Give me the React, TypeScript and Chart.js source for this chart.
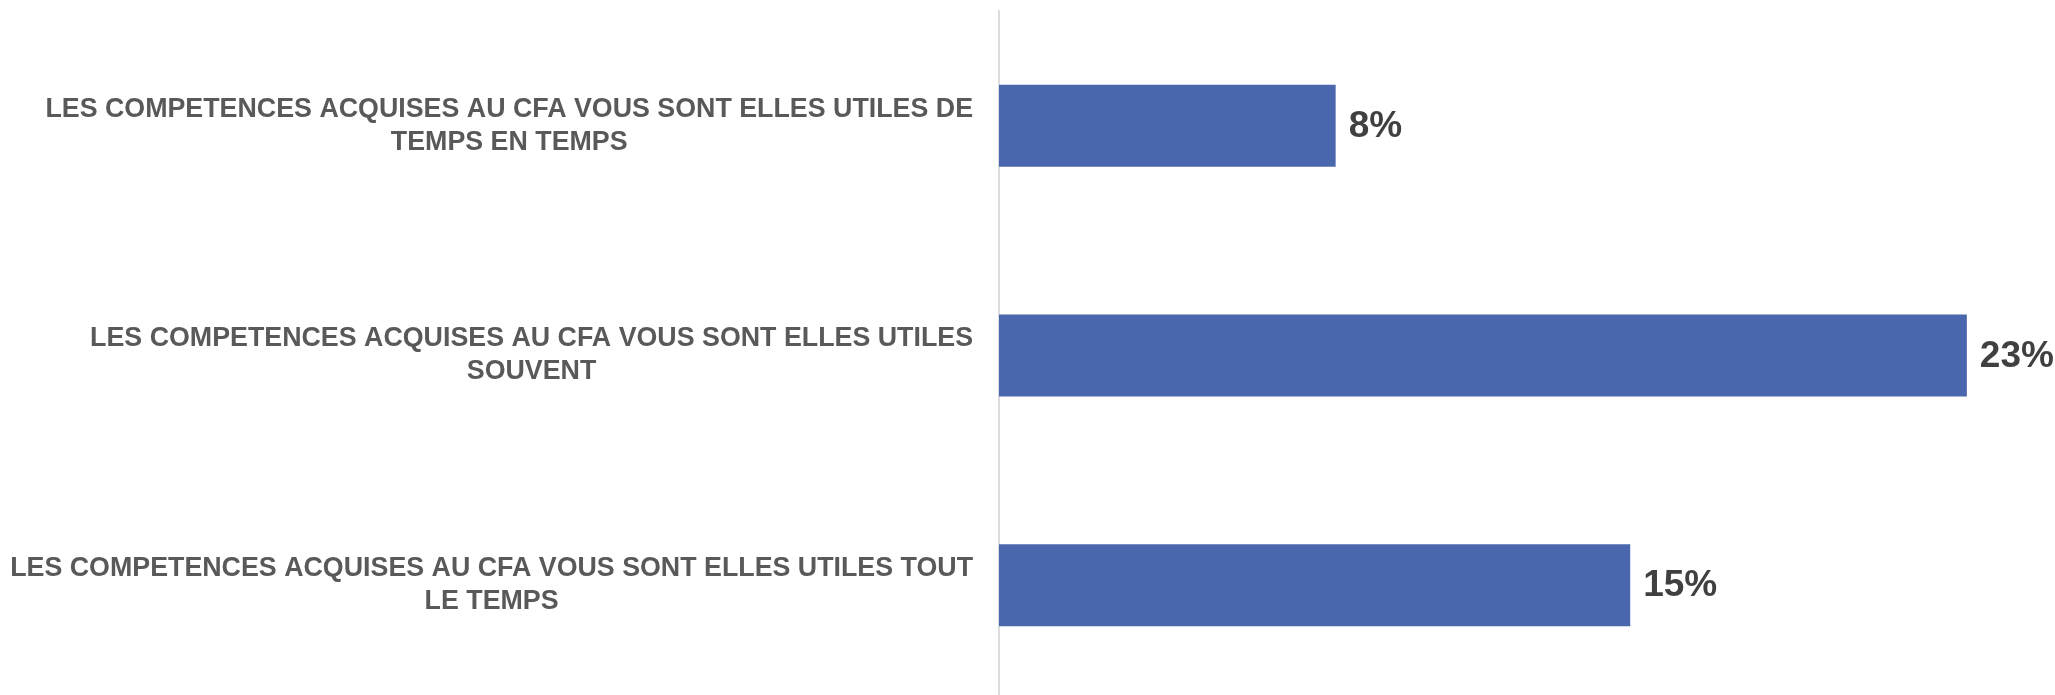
import React, { useEffect, useRef } from "react";
import { Chart, registerables } from "chart.js";

Chart.register(...registerables);

const categoryLines: string[][] = [
  ["LES COMPETENCES ACQUISES AU CFA VOUS SONT ELLES UTILES DE", "TEMPS EN TEMPS"],
  ["LES COMPETENCES ACQUISES AU CFA VOUS SONT ELLES UTILES", "SOUVENT"],
  ["LES COMPETENCES ACQUISES AU CFA VOUS SONT ELLES UTILES TOUT", "LE TEMPS"],
];
const categories: string[] = categoryLines.map((l) => l.join(" "));
const values: number[] = [8, 23, 15];
const valueLabels: string[] = values.map((v) => v + "%");

const FONT = '"Liberation Sans", Arial, sans-serif';

export default function App() {
  const ref = useRef<HTMLCanvasElement | null>(null);

  useEffect(() => {
    document.body.style.margin = "0";
    document.body.style.overflow = "hidden";
    const canvas = ref.current;
    if (!canvas) return;

    const labelsPlugin = {
      id: "customLabels",
      afterDatasetsDraw(chart: any) {
        const ctx = chart.ctx;
        const meta = chart.getDatasetMeta(0);
        ctx.save();
        ctx.font = `bold 37px ${FONT}`;
        ctx.fillStyle = "#404040";
        ctx.textAlign = "left";
        ctx.textBaseline = "middle";
        meta.data.forEach((bar: any, i: number) => {
          ctx.fillText(valueLabels[i], bar.x + 13, bar.y + 1, chart.width - bar.x - 13);
        });

        const yScale = chart.scales.y;
        ctx.font = `bold 26.8px ${FONT}`;
        ctx.fillStyle = "#595959";
        ctx.textAlign = "center";
        const right = chart.chartArea.left - 26;
        const lh = 33;
        categoryLines.forEach((lines, i) => {
          const y = yScale.getPixelForValue(i);
          const maxW = Math.max(...lines.map((l) => ctx.measureText(l).width));
          const cx = right - maxW / 2;
          const y0 = y - ((lines.length - 1) * lh) / 2;
          lines.forEach((line, j) => {
            ctx.fillText(line, cx, y0 + j * lh);
          });
        });
        ctx.restore();
      },
    };

    const chart = new Chart(canvas, {
      type: "bar",
      data: {
        labels: categories,
        datasets: [
          {
            data: values,
            backgroundColor: "#4A66AC",
            borderWidth: 0,
            categoryPercentage: 1,
            barPercentage: 0.357,
          },
        ],
      },
      options: {
        indexAxis: "y",
        animation: false,
        responsive: false,
        maintainAspectRatio: false,
        layout: { padding: { top: 11, bottom: 0, left: 0, right: 4 } },
        plugins: {
          legend: { display: false },
          tooltip: { enabled: false },
          title: { display: false },
        },
        scales: {
          x: {
            display: false,
            min: 0,
            max: 25,
          },
          y: {
            display: true,
            grid: { display: false },
            border: { display: true, color: "#dcdcdc", width: 2 },
            ticks: { display: false },
            afterFit: (scale: any) => {
              scale.width = 999;
            },
          },
        },
      },
      plugins: [labelsPlugin],
    });

    return () => chart.destroy();
  }, []);

  return (
    <div style={{ width: 2055, height: 695, overflow: "hidden", position: "relative", background: "#fff" }}>
      <canvas ref={ref} width={2055} height={700} style={{ display: "block" }} />
    </div>
  );
}
